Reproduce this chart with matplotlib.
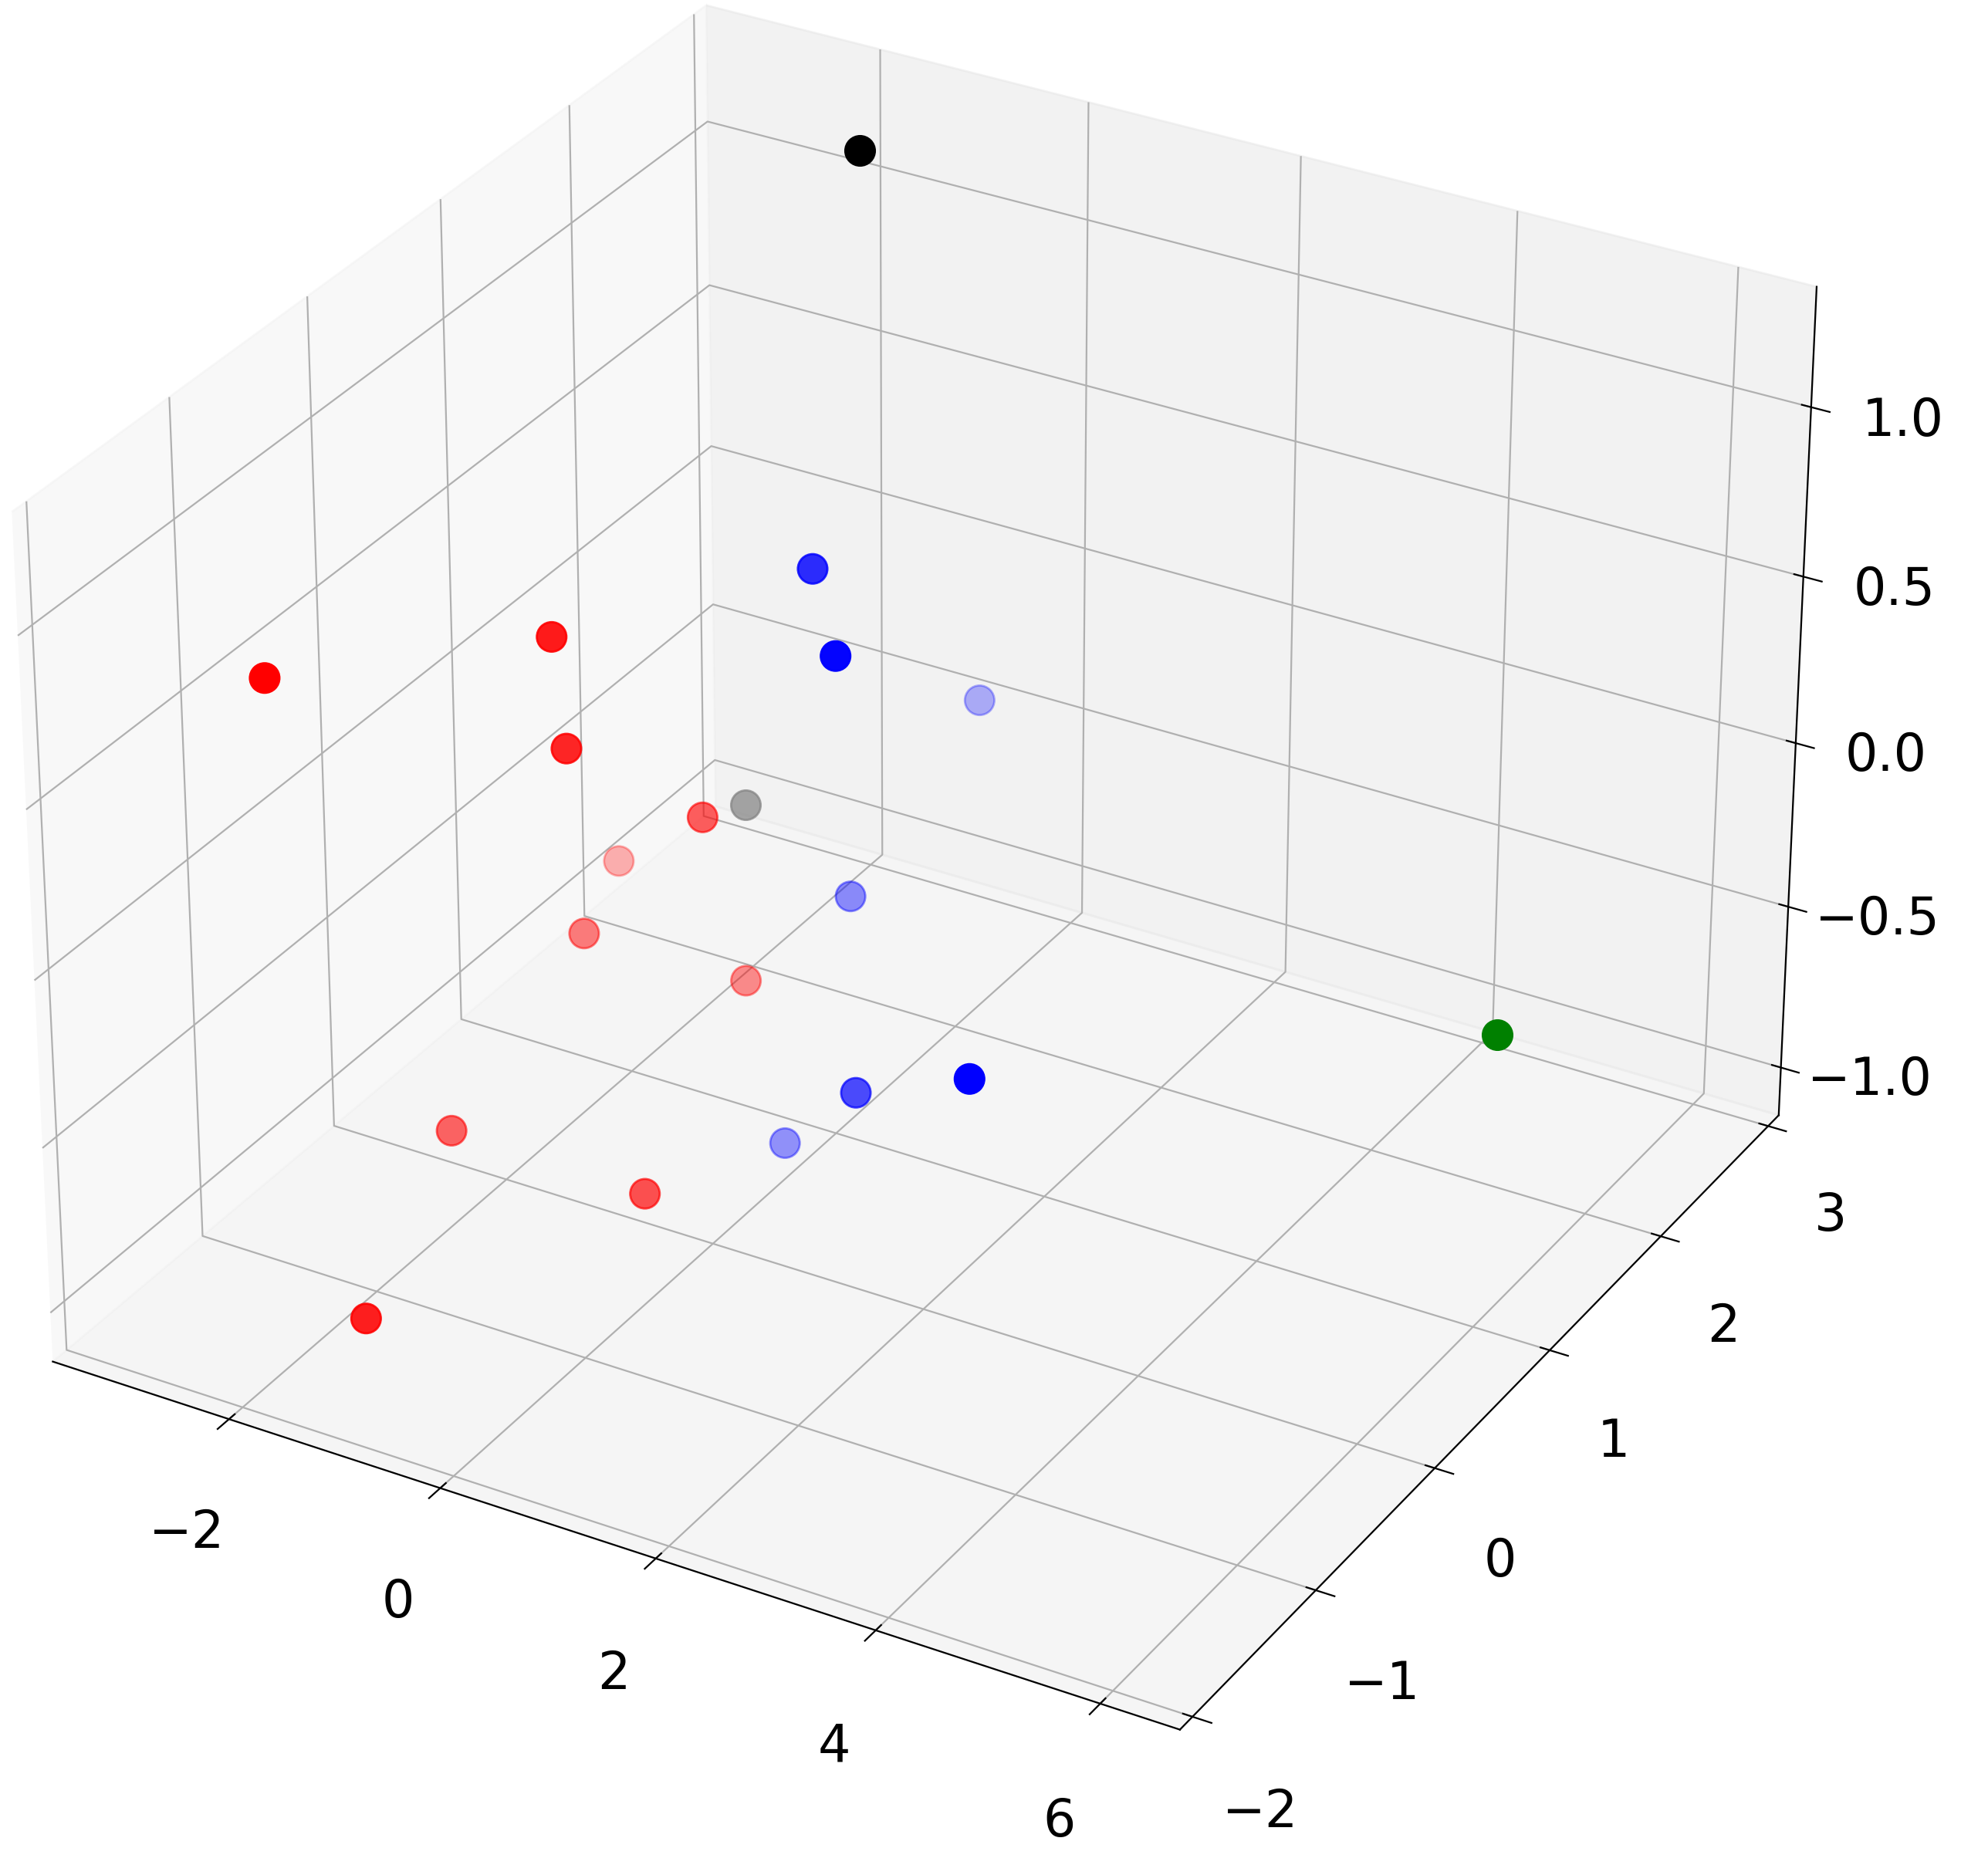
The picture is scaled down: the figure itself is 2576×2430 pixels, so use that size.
import matplotlib
matplotlib.use("Agg")
import matplotlib.pyplot as plt

red_x = [-2.89, -1.45, -1.33, -1.27, -3.34, -2.45, -1.47, -2.53, -0.65, -1.45]
red_y = [-1.0, 0.0, 0.0, 1.0, 2.0, 1.0, 1.5, 0.0, 0.0, -1.5]
red_z = [0.61, 0.55, 0.23, -0.29, -0.94, -0.76, -0.98, -1.05, -1.06, -1.0]
blue_x = [0.40, 1.20, 0.23, 0.15, 3.0, 1.37, 0.10]
blue_y = [0.5, 0.0, 2.0, 1.0, -0.5, 0.0, 0.5]
blue_z = [0.76, 0.73, -0.11, -0.40, -0.18, -0.55, -1.0]
black_x, black_y, black_z = [-1.25], [2.29], [1.33]
gray_x, gray_y, gray_z = [-0.2], [0.46], [0.02]
green_x, green_y, green_z = [4.35], [2.79], [-1.02]

plt.rcParams['font.size'] = 24
fig = plt.figure(figsize=(12.88, 12.15), dpi=200)
ax = fig.add_axes([-0.08, 0.01, 1.07, 1.07], projection='3d')
ax.scatter(red_x, red_y, red_z, c='red', s=190)
ax.scatter(blue_x, blue_y, blue_z, c='blue', s=190)
ax.scatter(black_x, black_y, black_z, c='black', s=190)
ax.scatter(gray_x, gray_y, gray_z, c='gray', s=190, alpha=0.7)
ax.scatter(green_x, green_y, green_z, c='green', s=190)
ax.set_xlim(-3.7, 6.7)
ax.set_ylim(-2.1, 3.1)
ax.set_zlim(-1.15, 1.35)
ax.set_xticks([-2, 0, 2, 4, 6])
ax.set_yticks([-2, -1, 0, 1, 2, 3])
ax.set_zticks([-1.0, -0.5, 0.0, 0.5, 1.0])
ax.tick_params(axis='x', pad=22)
ax.tick_params(axis='y', pad=20)
ax.tick_params(axis='z', pad=18)
fig.savefig("out.png")
